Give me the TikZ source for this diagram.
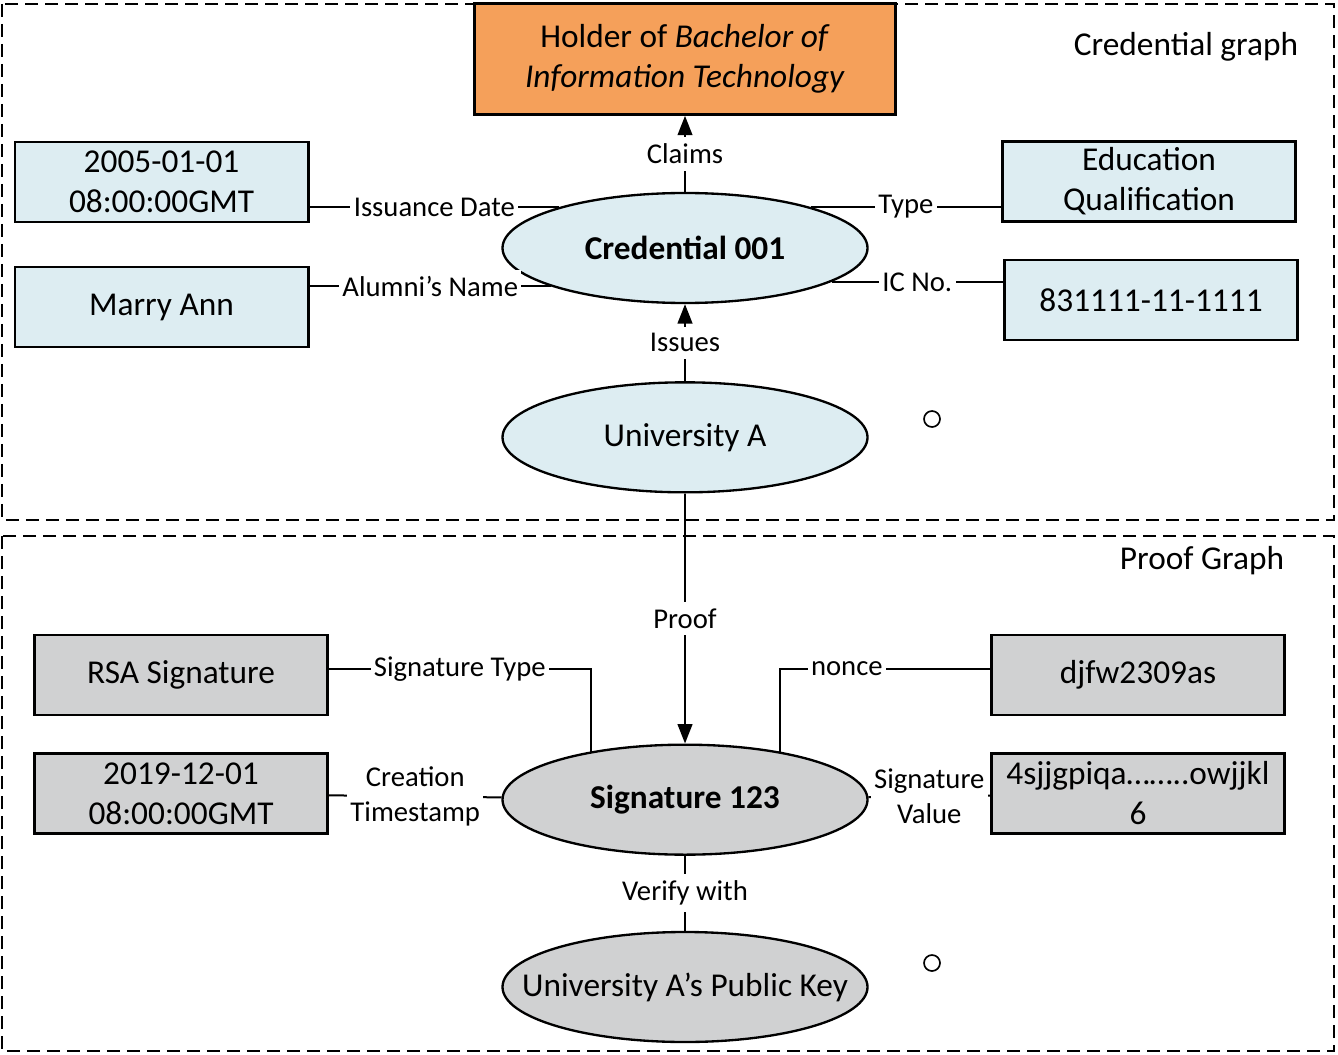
\documentclass[tikz,border=0pt]{standalone}
\usepackage{fontspec}
\setmainfont{Carlito}
\usepackage{xcolor}
\usepackage{tikz}
\usetikzlibrary{positioning, arrows.meta, shapes.geometric}

\definecolor{credblue}{RGB}{221,237,242}
\definecolor{claimorange}{RGB}{245,160,90}
\definecolor{proofgray}{RGB}{208,209,210}

\begin{document}
\begin{tikzpicture}[x=0.3pt, y=-0.3pt, line width=0.6pt, >={Triangle[length=5.8pt,width=4.4pt]},
  every node/.style={font=\fontsize{10}{12}\selectfont, align=center},
  valbox/.style={rectangle, draw, line width=0.8pt, minimum width=88pt, minimum height=24pt, inner sep=0pt},
  entity/.style={ellipse, draw, line width=0.7pt, minimum width=109.5pt, minimum height=33pt, inner sep=0pt},
  edgelbl/.style={fill=white, inner xsep=1pt, inner ysep=2pt, font=\fontsize{8.6}{10.3}\selectfont},
  graphbox/.style={draw, line width=0.7pt, dash pattern=on 4pt off 2pt}]
\useasboundingbox (0,0) rectangle (1338,1054);

% Graph frames
\draw[graphbox] (2,4) rectangle (1334,520);
\draw[graphbox] (2,536) rectangle (1334,1051);
\node (credtitle) at (1186,47) {Credential graph};
\node (prooftitle) at (1202,561) {Proof Graph};

% Centre column
\node[entity, fill=credblue, font=\fontsize{10}{12}\selectfont\bfseries] (cred) at (685,248) {Credential 001};
\node[valbox, fill=claimorange, minimum width=126.3pt, minimum height=33.3pt] (holder) [above=22.8pt of cred] {Holder of \textit{Bachelor of}\\\textit{Information Technology}};
\node[entity, fill=credblue] (univ) [below=23.1pt of cred] {University A};
\node[entity, fill=proofgray, font=\fontsize{10}{12}\selectfont\bfseries] (sig) [below=75pt of univ] {Signature 123};
\node[entity, fill=proofgray] (pubkey) [below=22.5pt of sig] {\makebox[0pt]{University A's Public Key}};

% Credential values
\node[valbox, fill=credblue] (issdate) at (161.5,182) {2005-01-01\\08:00:00GMT};
\node[valbox, fill=credblue] (alumni) at (161.5,307) {Marry Ann};
\node[valbox, fill=credblue] (credtype) at (1149,181.5) {Education\\Qualification};
\node[valbox, fill=credblue] (icno) at (1151,300) {831111-11-1111};

% Proof values
\node[valbox, fill=proofgray] (sigtype) at (181,675) {RSA Signature};
\node[valbox, fill=proofgray] (created) at (181,793.5) {2019-12-01\\08:00:00GMT};
\node[valbox, fill=proofgray] (nonce) at (1138,675) {djfw2309as};
\node[valbox, fill=proofgray] (sigval) at (1138,793.5) {4sjjgpiqa……..owjjkl\\6};

% Small circles
\node[circle, draw, minimum size=4.8pt, inner sep=0pt, line width=0.5pt] (markA) at (932,419) {};
\node[circle, draw, minimum size=4.8pt, inner sep=0pt, line width=0.5pt] (markB) at (932,963) {};

% Arrows
\draw[->] (cred) -- node[edgelbl] {Claims} (holder);
\draw[->] (univ) -- node[edgelbl] {Issues} (cred);
\draw[->] (univ) -- node[edgelbl] {Proof} (sig);
\draw (sig) -- node[edgelbl] {Verify with} (pubkey);

% Credential links
\draw (cred.162) -- node[edgelbl] {Issuance Date} (cred.162 -| issdate.east);
\draw (cred.196) -- node[edgelbl] {Alumni's Name} (cred.196 -| alumni.east);
\draw (cred.18) -- node[edgelbl] {Type} (cred.18 -| credtype.west);
\draw (cred.347) -- node[edgelbl] {IC No.} (cred.347 -| icno.west);

% Proof links
\draw (sig.153) |- node[edgelbl, pos=0.75] {Signature Type} ([yshift=1.8pt]sigtype.east);
\draw (sig.27) |- node[edgelbl, pos=0.66] {nonce} ([yshift=1.8pt]nonce.west);
\draw (created) -- node[edgelbl] {Creation\\Timestamp} (sig);
\draw (sig) -- node[edgelbl] {Signature\\Value} (sigval);

\end{tikzpicture}
\end{document}
